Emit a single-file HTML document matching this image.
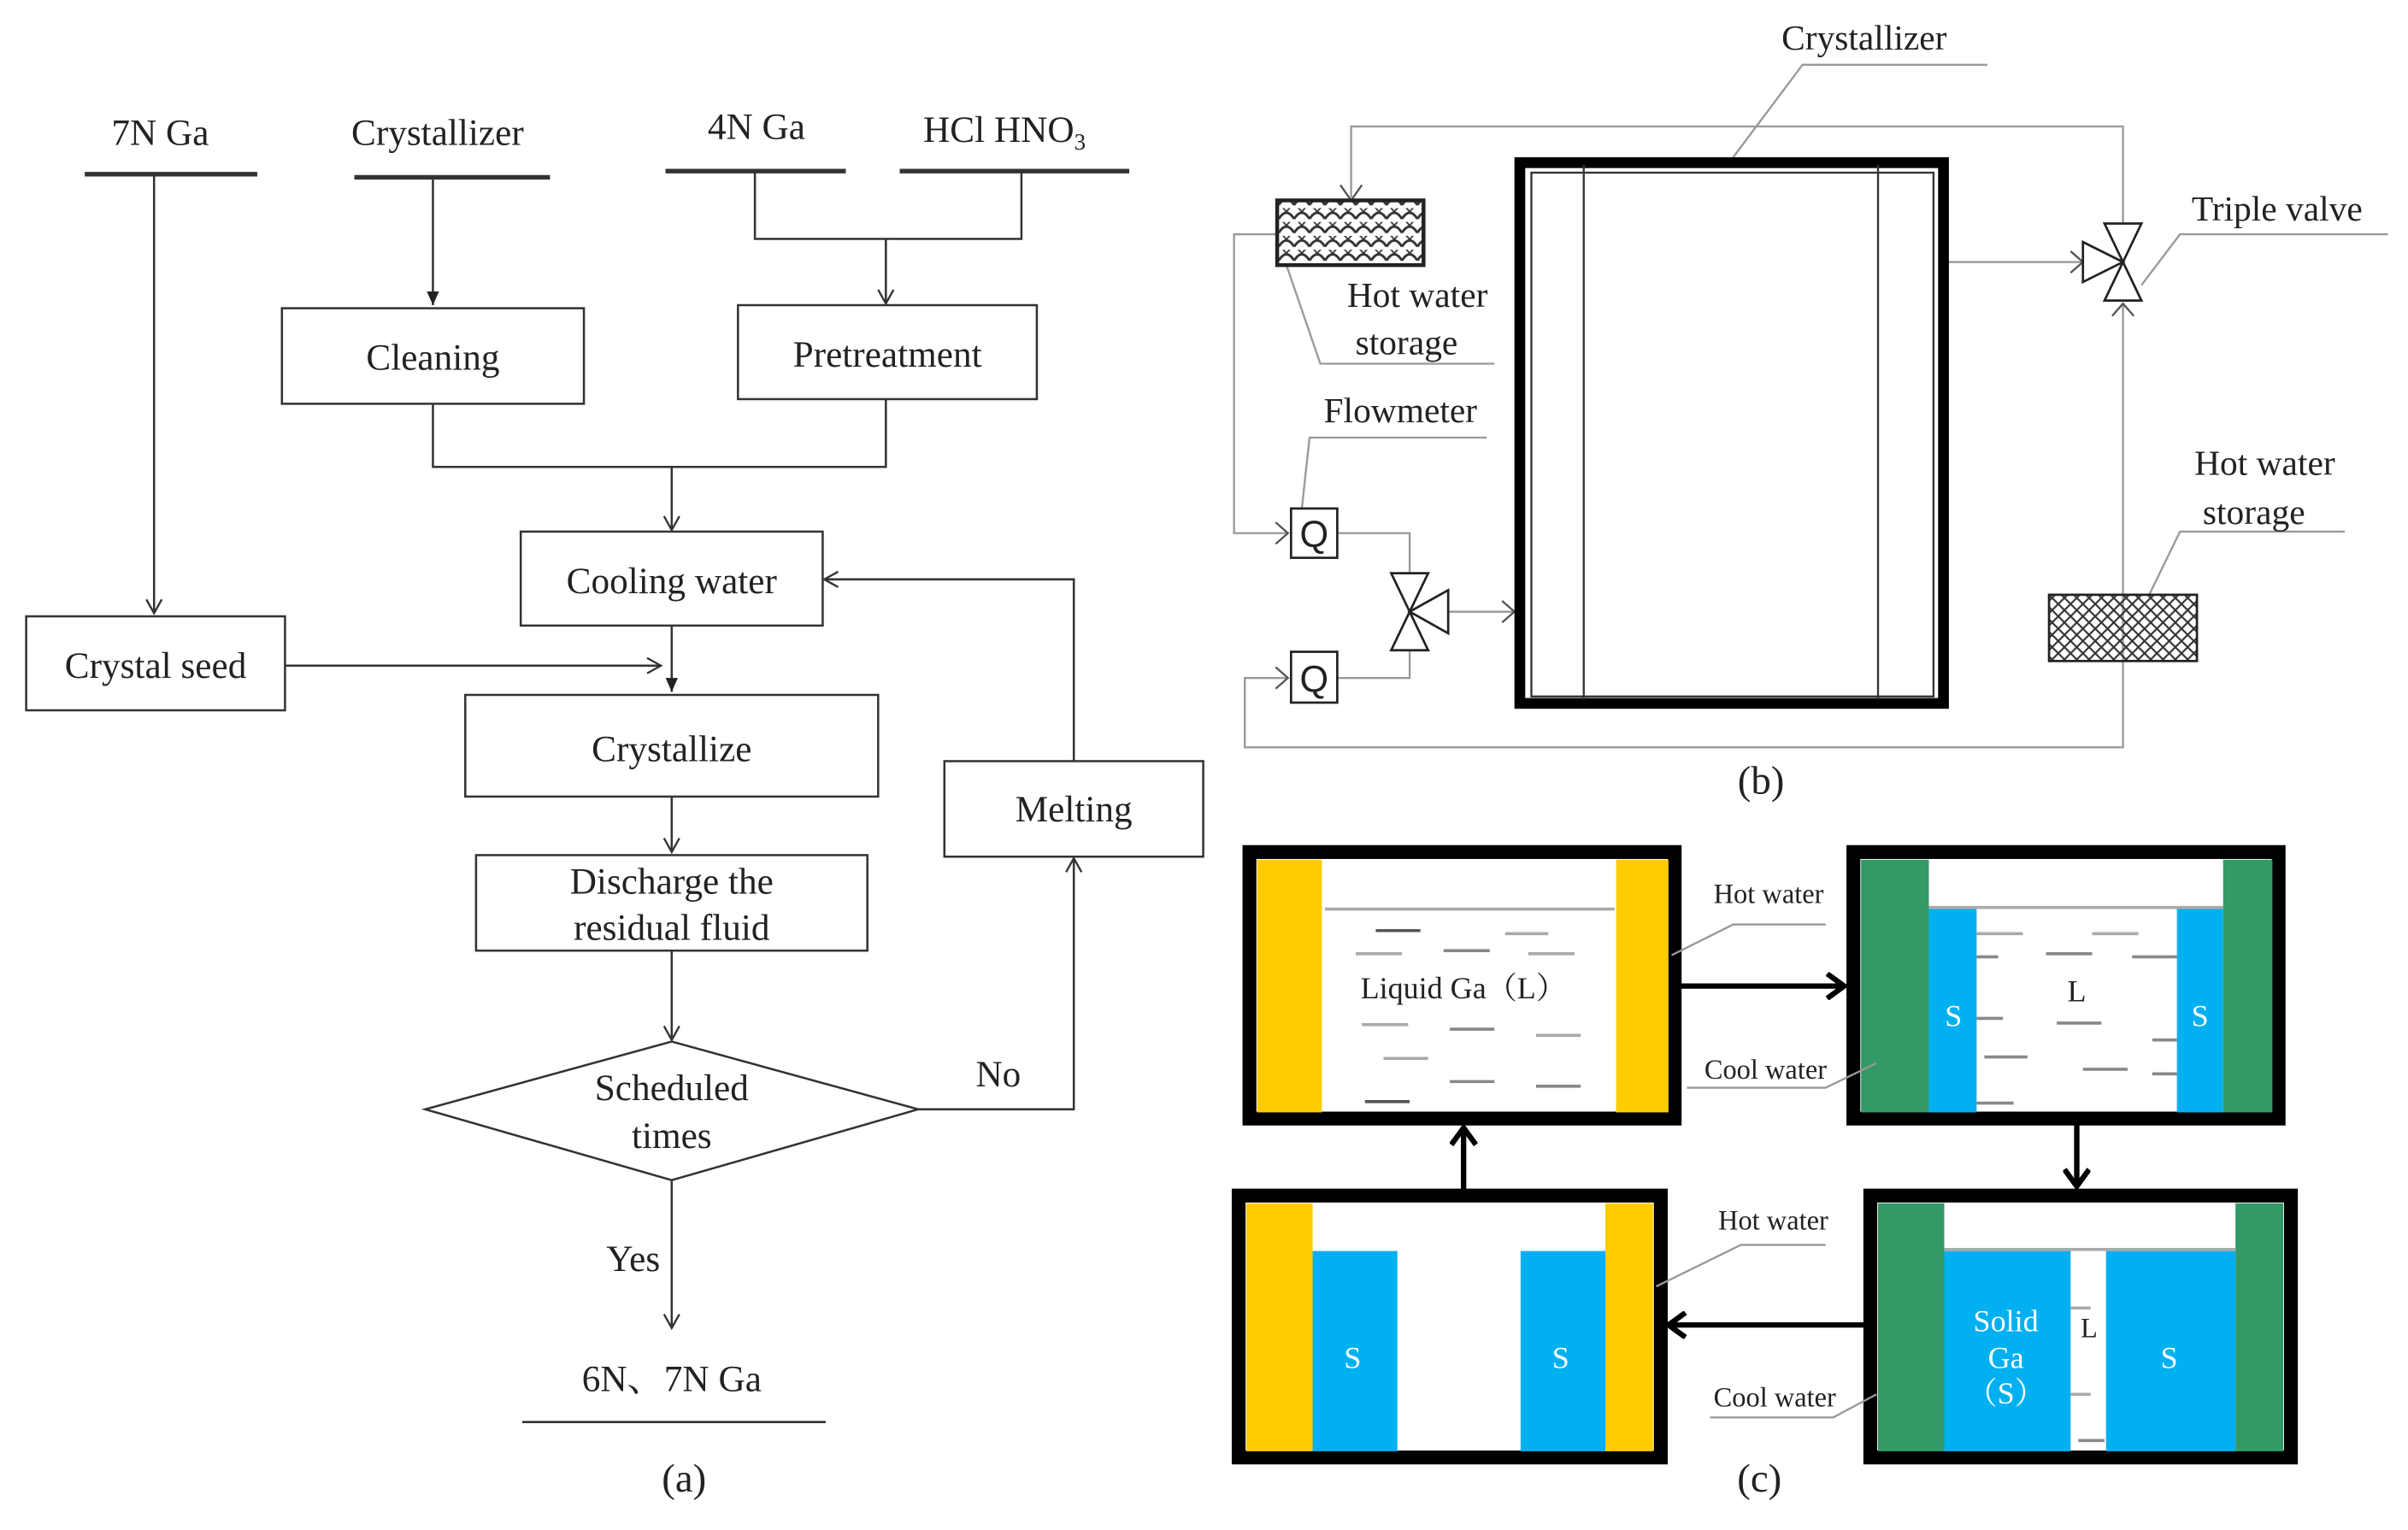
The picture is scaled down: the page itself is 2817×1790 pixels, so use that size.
<!DOCTYPE html>
<html><head><meta charset="utf-8"><style>
html,body{margin:0;padding:0;background:#fff;}
svg{display:block;}
text{font-family:"Liberation Serif","Noto Serif CJK SC",serif;fill:#222;}
</style></head><body>
<svg width="2817" height="1790" viewBox="0 0 1563 993" xmlns="http://www.w3.org/2000/svg">
<defs>
<marker id="ao" markerWidth="12" markerHeight="12" refX="10" refY="6" orient="auto" markerUnits="userSpaceOnUse"><path d="M1,1 L10,6 L1,11" fill="none" stroke="#333" stroke-width="1.3"/></marker>
<marker id="af" markerWidth="10" markerHeight="12" refX="9" refY="5" orient="auto" markerUnits="userSpaceOnUse"><path d="M0,1 L9,5 L0,9 Z" fill="#222"/></marker>
<marker id="ab" markerWidth="16" markerHeight="18" refX="13" refY="9" orient="auto" markerUnits="userSpaceOnUse"><path d="M2,1 L13,9 L2,17" fill="none" stroke="#000" stroke-width="3.5"/></marker>
<pattern id="wave" width="10" height="9" patternUnits="userSpaceOnUse"><path d="M0,7 Q5,-1 10,7" fill="none" stroke="#333" stroke-width="1.6"/><path d="M-5,2.5 Q0,-5 5,2.5 M5,2.5 Q10,-5 15,2.5" fill="none" stroke="#333" stroke-width="1"/></pattern>
<pattern id="cross" width="8" height="8" patternUnits="userSpaceOnUse"><path d="M0,0 L8,8 M8,0 L0,8" stroke="#333" stroke-width="1.2"/></pattern>
</defs>
<g stroke="#333" stroke-width="1.4" fill="none">
<line x1="55" y1="113" x2="167" y2="113" stroke-width="3"/>
<line x1="230" y1="115" x2="357" y2="115" stroke-width="3"/>
<line x1="432" y1="111" x2="549" y2="111" stroke-width="3"/>
<line x1="584" y1="111" x2="733" y2="111" stroke-width="3"/>
<line x1="100" y1="113" x2="100" y2="398" marker-end="url(#ao)"/>
<line x1="281" y1="115" x2="281" y2="198" marker-end="url(#af)"/>
<polyline points="490,111 490,155 663,155 663,111"/>
<line x1="575" y1="155" x2="575" y2="197" marker-end="url(#ao)"/>
<rect x="183" y="200" width="196" height="62"/>
<rect x="479" y="198" width="194" height="61"/>
<polyline points="281,262 281,303 575,303 575,259"/>
<line x1="436" y1="303" x2="436" y2="344" marker-end="url(#ao)"/>
<rect x="338" y="345" width="196" height="61"/>
<rect x="17" y="400" width="168" height="61"/>
<line x1="185" y1="432" x2="429" y2="432" marker-end="url(#ao)"/>
<line x1="436" y1="406" x2="436" y2="449" marker-end="url(#af)"/>
<rect x="302" y="451" width="268" height="66"/>
<line x1="436" y1="517" x2="436" y2="553" marker-end="url(#ao)"/>
<rect x="309" y="555" width="254" height="62"/>
<line x1="436" y1="617" x2="436" y2="675" marker-end="url(#ao)"/>
<polygon points="276,720 436,676 596,720 436,766"/>
<polyline points="596,720 697,720 697,557" marker-end="url(#ao)"/>
<rect x="613" y="494" width="168" height="62"/>
<polyline points="697,494 697,376 535,376" marker-end="url(#ao)"/>
<line x1="436" y1="766" x2="436" y2="862" marker-end="url(#ao)"/>
<line x1="339" y1="923" x2="536" y2="923"/>
</g>
<g font-size="24" text-anchor="middle">
<text x="104" y="94">7N Ga</text>
<text x="284" y="94">Crystallizer</text>
<text x="491" y="90">4N Ga</text>
<text x="652" y="92">HCl  HNO<tspan font-size="15" dy="5">3</tspan></text>
<text x="281" y="240">Cleaning</text>
<text x="576" y="238">Pretreatment</text>
<text x="436" y="385">Cooling water</text>
<text x="101" y="440">Crystal seed</text>
<text x="436" y="494">Crystallize</text>
<text x="436" y="580">Discharge the</text>
<text x="436" y="610">residual fluid</text>
<text x="697" y="533">Melting</text>
<text x="436" y="714">Scheduled</text>
<text x="436" y="745">times</text>
<text x="648" y="705">No</text>
<text x="411" y="825">Yes</text>
<text x="436" y="903">6N、7N Ga</text>
<text x="444" y="968" font-size="26">(a)</text>
</g>
<g stroke="#999" stroke-width="1.3" fill="none">
<polyline points="1290,42 1170,42 1125,102"/>
<polyline points="1378,145 1378,82 877,82 877,128"/>
<polyline points="829,152 801,152 801,346 836,346"/>
<polyline points="835,172 857,236 970,236"/>
<polyline points="965,284 850,284 845,330"/>
<polyline points="868,346 915,346 915,372"/>
<polyline points="868,440 915,440 915,422"/>
<polyline points="836,440 808,440 808,485 1378,485 1378,197"/>
<line x1="940" y1="397" x2="983" y2="397"/>
<line x1="1265" y1="170" x2="1352" y2="170"/>
<polyline points="1550,152 1415,152 1390,185"/>
<polyline points="1522,345 1415,345 1395,386"/>
</g>
<g stroke="#555" stroke-width="1.3" fill="none">
<polyline points="870,120 877,130 884,120"/>
<polyline points="828,339 836,346 828,353"/>
<polyline points="828,433 836,440 828,447"/>
<polyline points="975,390 983,397 975,404"/>
<polyline points="1344,163 1352,170 1344,177"/>
<polyline points="1371,205 1378,197 1385,205"/>
</g>
<rect x="829" y="130" width="95" height="42" fill="url(#wave)" stroke="#222" stroke-width="2.5"/>
<rect x="1330" y="386" width="96" height="43" fill="url(#cross)" stroke="#222" stroke-width="1.5"/>
<rect x="838" y="330" width="30" height="32" fill="#fff" stroke="#222" stroke-width="1.5"/>
<rect x="838" y="423" width="30" height="33" fill="#fff" stroke="#222" stroke-width="1.5"/>
<g font-size="24" text-anchor="middle"><text x="853" y="355" style="font-family:'Liberation Sans',sans-serif">Q</text><text x="853" y="449" style="font-family:'Liberation Sans',sans-serif">Q</text></g>
<g stroke="#222" stroke-width="1.5" fill="#fff">
<polygon points="903,372 927,372 915,397"/><polygon points="903,422 927,422 915,397"/><polygon points="940,383 940,411 915,397"/>
<polygon points="1366,145 1390,145 1378,170"/><polygon points="1366,195 1390,195 1378,170"/><polygon points="1352,157 1352,183 1378,170"/>
</g>
<rect x="986.5" y="105.5" width="275" height="351" fill="none" stroke="#000" stroke-width="7"/>
<g stroke="#333" stroke-width="1.3" fill="none">
<rect x="994" y="112" width="261" height="340"/>
<line x1="1028" y1="107" x2="1028" y2="454"/>
<line x1="1219" y1="107" x2="1219" y2="454"/>
</g>
<g font-size="23" text-anchor="middle">
<text x="1210" y="32">Crystallizer</text>
<text x="920" y="199">Hot water</text>
<text x="913" y="230">storage</text>
<text x="909" y="274">Flowmeter</text>
<text x="1478" y="143">Triple valve</text>
<text x="1470" y="308">Hot water</text>
<text x="1463" y="340">storage</text>
<text x="1143" y="515" font-size="26">(b)</text>
</g>
<g>
<rect x="811" y="553" width="276" height="173" fill="#fff" stroke="#000" stroke-width="9"/>
<rect x="816" y="558" width="42" height="164" fill="#FFCC00"/>
<rect x="1049" y="558" width="34" height="164" fill="#FFCC00"/>
<line x1="860" y1="590" x2="1048" y2="590" stroke="#aaa" stroke-width="2"/>
<g stroke="#555" stroke-width="2">
<line x1="893" y1="604" x2="922" y2="604"/><line x1="977" y1="606" x2="1005" y2="606" stroke="#aaa"/>
<line x1="880" y1="619" x2="910" y2="619" stroke="#aaa"/><line x1="937" y1="617" x2="967" y2="617" stroke="#888"/><line x1="992" y1="619" x2="1022" y2="619" stroke="#aaa"/>
<line x1="884" y1="665" x2="914" y2="665" stroke="#aaa"/><line x1="941" y1="668" x2="970" y2="668" stroke="#888"/><line x1="997" y1="672" x2="1026" y2="672" stroke="#aaa"/>
<line x1="898" y1="687" x2="927" y2="687" stroke="#aaa"/><line x1="941" y1="702" x2="970" y2="702" stroke="#888"/><line x1="997" y1="705" x2="1026" y2="705" stroke="#888"/>
<line x1="886" y1="715" x2="915" y2="715"/>
</g>
<rect x="1203" y="553" width="276" height="173" fill="#fff" stroke="#000" stroke-width="9"/>
<rect x="1208" y="558" width="44" height="164" fill="#339966"/>
<rect x="1443" y="558" width="32" height="164" fill="#339966"/>
<rect x="1252" y="590" width="31" height="132" fill="#00B0F0"/>
<rect x="1413" y="590" width="30" height="132" fill="#00B0F0"/>
<line x1="1252" y1="589" x2="1443" y2="589" stroke="#aaa" stroke-width="2"/>
<g stroke="#888" stroke-width="2">
<line x1="1283" y1="606" x2="1313" y2="606" stroke="#aaa"/><line x1="1358" y1="606" x2="1388" y2="606" stroke="#aaa"/>
<line x1="1283" y1="621" x2="1297" y2="621"/><line x1="1328" y1="619" x2="1358" y2="619"/><line x1="1384" y1="621" x2="1413" y2="621"/>
<line x1="1283" y1="661" x2="1300" y2="661"/><line x1="1335" y1="664" x2="1364" y2="664"/><line x1="1397" y1="675" x2="1413" y2="675"/>
<line x1="1288" y1="686" x2="1316" y2="686"/><line x1="1352" y1="694" x2="1381" y2="694"/><line x1="1397" y1="697" x2="1413" y2="697"/>
<line x1="1283" y1="716" x2="1307" y2="716"/>
</g>
<rect x="1214" y="776" width="273" height="170" fill="#fff" stroke="#000" stroke-width="9"/>
<rect x="1219" y="781" width="43" height="161" fill="#339966"/>
<rect x="1451" y="781" width="31" height="161" fill="#339966"/>
<rect x="1262" y="812" width="82" height="130" fill="#00B0F0"/>
<rect x="1367" y="812" width="84" height="130" fill="#00B0F0"/>
<line x1="1262" y1="811" x2="1451" y2="811" stroke="#aaa" stroke-width="2"/>
<g stroke="#888" stroke-width="2"><line x1="1344" y1="905" x2="1357" y2="905" stroke="#aaa"/><line x1="1344" y1="849" x2="1357" y2="849" stroke="#aaa"/><line x1="1349" y1="935" x2="1366" y2="935"/></g>
<rect x="804" y="776" width="274" height="170" fill="#fff" stroke="#000" stroke-width="9"/>
<rect x="809" y="781" width="43" height="161" fill="#FFCC00"/>
<rect x="1042" y="781" width="31" height="161" fill="#FFCC00"/>
<rect x="852" y="812" width="55" height="130" fill="#00B0F0"/>
<rect x="987" y="812" width="55" height="130" fill="#00B0F0"/>
<g stroke="#000" stroke-width="3.5" fill="none">
<line x1="1091" y1="640" x2="1197" y2="640" marker-end="url(#ab)"/>
<line x1="1348" y1="730" x2="1348" y2="770" marker-end="url(#ab)"/>
<line x1="1210" y1="860" x2="1083" y2="860" marker-end="url(#ab)"/>
<line x1="950" y1="772" x2="950" y2="732" marker-end="url(#ab)"/>
</g>
<g stroke="#999" stroke-width="1.3" fill="none">
<polyline points="1185,600 1125,600 1085,620"/>
<polyline points="1095,706 1185,706 1218,690"/>
<polyline points="1185,808 1130,808 1075,835"/>
<polyline points="1110,920 1190,920 1218,905"/>
</g>
<g font-size="18" text-anchor="middle">
<text x="1148" y="586">Hot water</text>
<text x="1146" y="700">Cool water</text>
<text x="1151" y="798">Hot water</text>
<text x="1152" y="913">Cool water</text>
<text x="950" y="648" font-size="20">Liquid Ga（L）</text>
<text x="1348" y="650" font-size="20">L</text>
<text x="1356" y="868" font-size="18">L</text>
</g>
<g font-size="20" text-anchor="middle">
<text x="1268" y="666" style="fill:#fff">S</text>
<text x="1428" y="666" style="fill:#fff">S</text>
<text x="1302" y="864" style="fill:#fff">Solid</text>
<text x="1302" y="888" style="fill:#fff">Ga</text>
<text x="1302" y="911" style="fill:#fff">（S）</text>
<text x="1408" y="888" style="fill:#fff">S</text>
<text x="878" y="888" style="fill:#fff">S</text>
<text x="1013" y="888" style="fill:#fff">S</text>
</g>
<text x="1142" y="968" font-size="26" text-anchor="middle">(c)</text>
</g>
</svg>
</body></html>
